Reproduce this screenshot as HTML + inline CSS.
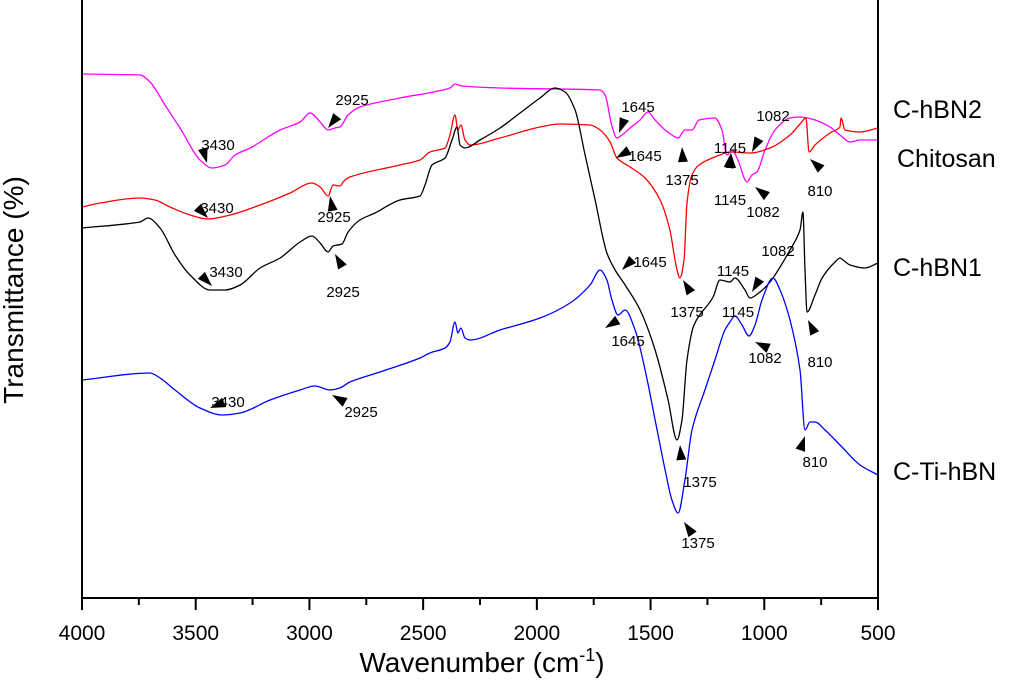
<!DOCTYPE html>
<html><head><meta charset="utf-8"><style>
html,body{margin:0;padding:0;background:#fff;}
svg{display:block;font-family:"Liberation Sans",Arial,sans-serif;}
</style></head><body>
<svg id="chart" width="1024" height="683" viewBox="0 0 1024 683">
<g id="plot"></g>
<g id="axes"></g>
<g id="ann"></g>
<text x="23" y="290" font-size="28" text-anchor="middle" transform="rotate(-90 23 290)">Transmittance (%)</text>
<text x="482" y="672" font-size="28" text-anchor="middle">Wavenumber (cm<tspan font-size="18" dy="-11">-1</tspan><tspan dy="11">)</tspan></text>
<text x="893" y="118" font-size="25">C-hBN2</text>
<text x="897" y="167" font-size="25">Chitosan</text>
<text x="893" y="276" font-size="25">C-hBN1</text>
<text x="893" y="480" font-size="25">C-Ti-hBN</text>
</svg>
<script>
const xTicks = [4000,3500,3000,2500,2000,1500,1000,500];
const magWn = [4000,3745,3701,3635,3569,3481,3428,3371,3327,3261,3129,3041,2997,2953,2918,2888,2866,2830,2778,2602,2382,2360,2329,2162,1722,1700,1670,1648,1626,1590,1546,1511,1480,1436,1406,1379,1349,1318,1287,1217,1186,1164,1142,1116,1076,1054,1032,997,953,887,843,777,711,667,623,579,500];
const magT = [524,523,516,493,470,438,430,433,443,450,468,476,485,476,468,470,471,483,491,500,510,514,512,510,508,503,472,460,463,470,478,486,478,468,463,460,468,468,478,480,468,443,448,438,416,423,426,448,468,480,481,478,471,463,456,458,458];
const redWn = [4000,3921,3745,3679,3613,3525,3446,3349,3217,3085,2989,2953,2918,2896,2866,2848,2822,2602,2514,2470,2404,2382,2360,2347,2334,2316,2294,2162,1986,1898,1766,1722,1678,1648,1590,1524,1458,1415,1388,1371,1353,1340,1318,1287,1195,1151,1063,975,887,843,817,803,777,711,667,663,645,579,500];
const redT = [391,395,400,398,391,383,379,383,393,405,415,411,402,413,412,417,421,433,438,446,450,463,483,468,473,458,453,460,471,474,473,468,456,440,431,420,398,368,333,320,338,395,423,433,443,446,445,450,463,474,480,446,453,465,471,480,468,466,470];
const blkWn = [4000,3745,3710,3657,3591,3525,3437,3371,3305,3217,3129,3041,2989,2953,2918,2896,2857,2830,2778,2712,2602,2514,2492,2461,2404,2373,2351,2338,2316,2250,2162,2074,1986,1920,1876,1832,1788,1744,1692,1656,1612,1546,1480,1423,1384,1362,1340,1309,1225,1195,1151,1129,1085,1063,1019,975,887,843,830,821,812,777,746,689,667,654,623,557,500];
const blkT = [370,376,380,370,343,323,308,308,313,330,340,356,362,355,346,352,354,366,378,385,398,402,413,433,440,458,471,453,450,458,470,485,500,510,506,488,443,398,345,328,313,288,248,198,158,178,238,273,301,318,316,320,308,300,306,316,348,368,386,328,286,303,320,336,340,338,333,330,335];
const bluWn = [4000,3701,3657,3591,3481,3384,3305,3173,3041,2976,2910,2866,2822,2690,2514,2470,2404,2382,2360,2347,2334,2316,2294,2162,1986,1854,1766,1722,1692,1670,1643,1612,1568,1524,1480,1436,1406,1379,1349,1318,1261,1217,1173,1151,1129,1098,1067,1041,1010,962,931,887,843,821,799,777,733,667,579,500];
const bluT = [218,225,220,208,190,183,185,198,208,212,208,210,216,226,240,245,250,256,276,265,270,260,258,268,280,295,313,328,318,298,283,288,268,228,178,128,98,85,118,168,208,238,268,276,282,273,262,273,298,320,308,278,228,168,176,176,168,153,133,123];

const X0=82,X1=878,Y0=598,YT=0;
function xs(w){return X0+(4000-w)*(X1-X0)/3500;}
function ys(t){return Y0-t*(Y0-YT)/598;}
const NS='http://www.w3.org/2000/svg';
const plot=document.getElementById('plot'),axes=document.getElementById('axes'),ann=document.getElementById('ann');
function mk(tag,attrs,parent){const e=document.createElementNS(NS,tag);for(const k in attrs)e.setAttribute(k,attrs[k]);parent.appendChild(e);return e;}

function monotonePath(px,py){
  const n=px.length, m=new Array(n), s=[];
  for(let i=0;i<n-1;i++){s.push((py[i+1]-py[i])/((px[i+1]-px[i])||1e-6));}
  m[0]=s[0]; m[n-1]=s[n-2];
  for(let i=1;i<n-1;i++){ if(s[i-1]*s[i]<=0) m[i]=0; else { m[i]=2/(1/s[i-1]+1/s[i]); } }
  let d='M'+px[0].toFixed(1)+' '+py[0].toFixed(1);
  for(let i=0;i<n-1;i++){
    const h=(px[i+1]-px[i])/3;
    d+='C'+(px[i]+h).toFixed(1)+' '+(py[i]+m[i]*h).toFixed(1)+' '+(px[i+1]-h).toFixed(1)+' '+(py[i+1]-m[i+1]*h).toFixed(1)+' '+px[i+1].toFixed(1)+' '+py[i+1].toFixed(1);
  }
  return d;
}
function series(wn,t,color,name){
  const px=wn.map(xs), py=t.map(ys);
  const p=mk('path',{d:monotonePath(px,py),fill:'none',stroke:color,'stroke-width':1.3,'stroke-linejoin':'round'},plot);
  
  
}
series(magWn,magT,'#ff00ff','line-c-hbn2');
series(redWn,redT,'#ff0000','line-chitosan');
series(blkWn,blkT,'#000000','line-c-hbn1');
series(bluWn,bluT,'#0000ff','line-c-ti-hbn');

const ax=mk('path',{d:'M'+X0+' 0V'+Y0+'H'+X1+'V0',fill:'none',stroke:'#000','stroke-width':2},axes);


for(let i=0;i<xTicks.length;i++){
  const x=xs(xTicks[i]);
  const tk=mk('line',{x1:x,x2:x,y1:Y0,y2:Y0+12,stroke:'#000','stroke-width':2},axes);
  
  
  const lb=mk('text',{x:x,y:640,'font-size':21,'text-anchor':'middle'},axes);
  lb.textContent=xTicks[i];
  
  
  if(i<xTicks.length-1){
    const xm=xs(xTicks[i]-250);
    const mt=mk('line',{x1:xm,x2:xm,y1:Y0,y2:Y0+7,stroke:'#000','stroke-width':2},axes);
    
    
  }
}

const notes=[
 ['2925',352,105,328,128,342,110],
 ['3430',218,150,207,163,202,146],
 ['3430',217,213,208,218,195,205],
 ['2925',334,222,330,196,333,212],
 ['3430',226,277,212,286,199,273],
 ['2925',343,297,335,254,343,268],
 ['3430',228,407,210,408,225,402],
 ['2925',361,417,332,395,348,404],
 ['1645',638,112,619,133,627,112],
 ['1645',645,161,616,158,630,150],
 ['1375',682,185,682,147,683,163],
 ['1082',773,121,752,152,763,131],
 ['1145',730,153,731,153,728,172],
 ['1145',730,205,731,153,731,170],
 ['1082',763,217,755,187,768,197],
 ['810',820,196,810,159,820,168],
 ['1645',650,267,622,270,635,257],
 ['1082',778,256,752,292,764,272],
 ['1145',733,276,null,null,null,null],
 ['1375',687,317,683,280,691,293],
 ['1645',628,346,605,328,618,320],
 ['1145',738,317,null,null,null,null],
 ['1082',765,363,755,342,768,348],
 ['810',820,367,808,320,815,334],
 ['1375',700,487,680,445,682,468],
 ['810',815,467,805,436,800,451],
 ['1375',698,548,684,522,693,535]
];
for(const n of notes){
  const t=mk('text',{x:n[1],y:n[2],'font-size':15,'text-anchor':'middle'},ann);
  t.textContent=n[0];
  
  
  if(n[3]!==null){
    const tx=n[3],ty=n[4],fx=n[5],fy=n[6];
    const dx=fx-tx,dy=fy-ty,L=Math.hypot(dx,dy)||1,ux=dx/L,uy=dy/L;
    const bx=tx+ux*15,by=ty+uy*15;
    const tri=mk('polygon',{points:tx+','+ty+' '+(bx-uy*5)+','+(by+ux*5)+' '+(bx+uy*5)+','+(by-ux*5),fill:'#000'},ann);
    
    
  }
}
</script>
</body></html>
